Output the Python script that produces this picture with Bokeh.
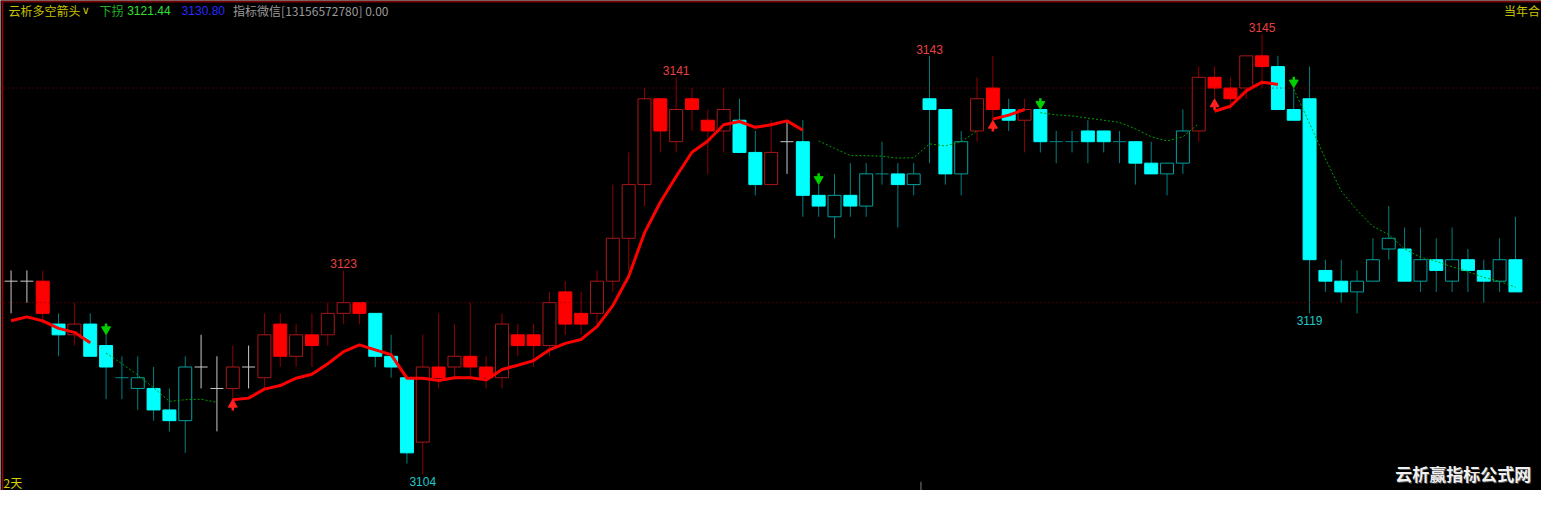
from bokeh.plotting import figure
from bokeh.models import Range1d, Span, Label
from bokeh.core.properties import value
from bokeh.embed import file_html
from bokeh.resources import INLINE

NaN = float("nan")

# ---------------- data ----------------
开盘 = [3122, 3122, 3122, 3118, 3117, 3118, 3116, 3113, 3112, 3112,
        3110, 3109, 3114, 3112, 3112, 3114, 3113, 3118, 3115, 3117,
        3117, 3119, 3120, 3119, 3115, 3113, 3107, 3114, 3114, 3115,
        3114, 3113, 3117, 3117, 3116, 3121, 3119, 3119, 3122, 3126,
        3131, 3139, 3135, 3139, 3137, 3136, 3137, 3134, 3131, 3135,
        3135, 3130, 3128, 3130, 3129, 3132, 3132, 3131, 3139, 3138,
        3132, 3136, 3140, 3138, 3137, 3138, 3135, 3135, 3136, 3136,
        3135, 3135, 3133, 3132, 3133, 3136, 3141, 3140, 3140, 3143,
        3142, 3138, 3139, 3123, 3122, 3121, 3122, 3125, 3125, 3122,
        3124, 3122, 3124, 3123, 3122, 3124]
最高 = [3123, 3123, 3123, 3119, 3120, 3119, 3117, 3115, 3115, 3114,
        3112, 3115, 3117, 3115, 3116, 3116, 3119, 3119, 3118, 3119,
        3120, 3123, 3120, 3119, 3117, 3113, 3117, 3119, 3118, 3120,
        3115, 3119, 3118, 3118, 3121, 3122, 3121, 3123, 3131, 3134,
        3140, 3139, 3141, 3140, 3138, 3140, 3139, 3136, 3137, 3137,
        3137, 3131, 3132, 3133, 3133, 3135, 3133, 3133, 3143, 3138,
        3136, 3141, 3143, 3139, 3139, 3138, 3136, 3136, 3137, 3136,
        3136, 3135, 3135, 3133, 3138, 3142, 3142, 3141, 3143, 3145,
        3143, 3140, 3142, 3124, 3124, 3123, 3126, 3129, 3127, 3127,
        3126, 3127, 3125, 3124, 3126, 3128]
最低 = [3119, 3120, 3118, 3115, 3116, 3115, 3111, 3111, 3110, 3109,
        3108, 3106, 3112, 3108, 3111, 3112, 3112, 3114, 3114, 3114,
        3116, 3118, 3118, 3114, 3113, 3105, 3104, 3112, 3113, 3113,
        3112, 3112, 3115, 3114, 3115, 3117, 3117, 3118, 3121, 3123,
        3129, 3134, 3134, 3136, 3132, 3134, 3134, 3130, 3131, 3132,
        3128, 3128, 3126, 3128, 3128, 3131, 3127, 3130, 3133, 3131,
        3130, 3135, 3137, 3136, 3134, 3134, 3133, 3134, 3133, 3134,
        3133, 3131, 3132, 3130, 3132, 3135, 3139, 3138, 3139, 3140,
        3138, 3137, 3119, 3121, 3120, 3119, 3122, 3124, 3122, 3121,
        3121, 3121, 3121, 3120, 3121, 3121]
收盘 = [3122, 3122, 3119, 3117, 3118, 3115, 3114, 3113, 3113, 3110,
        3109, 3114, 3114, 3112, 3114, 3114, 3117, 3115, 3117, 3116,
        3119, 3120, 3119, 3115, 3114, 3106, 3114, 3113, 3115, 3114,
        3113, 3118, 3116, 3116, 3120, 3118, 3118, 3122, 3126, 3131,
        3139, 3136, 3138, 3138, 3136, 3138, 3134, 3131, 3134, 3135,
        3130, 3129, 3130, 3129, 3132, 3132, 3131, 3132, 3138, 3132,
        3135, 3139, 3138, 3137, 3138, 3135, 3135, 3135, 3135, 3135,
        3135, 3133, 3132, 3133, 3136, 3141, 3140, 3139, 3143, 3142,
        3138, 3137, 3124, 3122, 3121, 3122, 3124, 3126, 3122, 3124,
        3123, 3124, 3123, 3122, 3124, 3121]
色类 = ["w", "w", "r", "c", "r", "c", "c", "c", "c", "c",
        "c", "c", "w", "w", "r", "w", "r", "r", "r", "r",
        "r", "r", "r", "c", "c", "c", "r", "r", "r", "r",
        "r", "r", "r", "r", "r", "r", "r", "r", "r", "r",
        "r", "r", "r", "r", "r", "r", "c", "c", "r", "w",
        "c", "c", "c", "c", "c", "c", "c", "c", "c", "c",
        "c", "r", "r", "c", "r", "c", "c", "c", "c", "c",
        "c", "c", "c", "c", "c", "r", "r", "r", "r", "r",
        "c", "c", "c", "c", "c", "c", "c", "c", "c", "c",
        "c", "c", "c", "c", "c", "c"]
红线 = [3118.31, 3118.67, 3118.3, 3117.6, 3117.23, 3116.27, NaN, NaN, NaN, NaN,
        NaN, NaN, NaN, NaN, 3110.95, 3111.1, 3111.94, 3112.27, 3112.96, 3113.32,
        3114.3, 3115.43, 3116.06, 3115.6, 3115.15, 3112.96, 3112.96, 3112.75, 3113.0, 3113.0,
        3112.8, 3113.77, 3114.16, 3114.6, 3115.6, 3116.2, 3116.57, 3117.77, 3119.73, 3122.44,
        3126.5, 3129.36, 3131.76, 3134.02, 3135.07, 3136.58, 3136.88, 3136.34, 3136.58, 3136.94,
        3136.06, NaN, NaN, NaN, NaN, NaN, NaN, NaN, NaN, NaN,
        NaN, NaN, 3137.1, 3137.48, 3138.0, NaN, NaN, NaN, NaN, NaN,
        NaN, NaN, NaN, NaN, NaN, NaN, 3137.84, 3138.3, 3139.74, 3140.55,
        3140.34, NaN, NaN, NaN, NaN, NaN, NaN, NaN, NaN, NaN,
        NaN, NaN, NaN, NaN, NaN, NaN]
绿线 = [NaN, NaN, NaN, NaN, NaN, NaN, 3115.3, 3114.3, 3113.26, 3112.06,
        3110.8, 3110.95, 3111.0, 3110.7, NaN, NaN, NaN, NaN, NaN, NaN,
        NaN, NaN, NaN, NaN, NaN, NaN, NaN, NaN, NaN, NaN,
        NaN, NaN, NaN, NaN, NaN, NaN, NaN, NaN, NaN, NaN,
        NaN, NaN, NaN, NaN, NaN, NaN, NaN, NaN, NaN, NaN,
        NaN, 3135.07, 3134.38, 3133.7, 3133.7, 3133.65, 3133.47, 3133.5, 3134.8, 3134.6,
        3135.0, 3136.0, NaN, NaN, NaN, 3137.7, 3137.5, 3137.4, 3137.2, 3137.0,
        3136.8, 3136.2, 3135.46, 3135.07, 3135.46, 3136.67, NaN, NaN, NaN, NaN,
        NaN, 3139.9, 3136.7, 3133.4, 3130.4, 3128.6, 3127.1, 3126.35, 3125.0, 3124.24,
        3123.85, 3123.34, 3122.9, 3122.35, 3121.99, 3121.44]
高点标注 = [21, 42, 58, 79]
低点标注 = [26, 82]
下箭头 = [6, 51, 65, 81]
上箭头 = [14, 62, 76]
参考线 = [3120, 3140]
分隔位置 = [57.46]
标题 = "云析多空箭头"
下拐值 = "3121.44"
蓝值 = "3130.80"
信息 = "指标微信[13156572780] 0.00"
右上文字 = "当年合"

# ---------------- layout ----------------
W, H = 1541, 490
RW, RH = 1557, 506
首根像素, 间距 = 10.67, 16.0
基准价, 基准像素, 每点像素 = 3145.0, 35.0, 11.08

def 数据x(rx):
    return (rx - 首根像素) / 间距

def 数据y(ry):
    return 基准价 - (ry - 基准像素) / 每点像素

def 屏x(rx):
    return rx * W / RW

def 屏y(ry):
    return H - ry * H / RH

p = figure(width=W, height=H, x_range=Range1d(数据x(0), 数据x(RW)),
           y_range=Range1d(数据y(RH), 数据y(0)), output_backend="svg",
           toolbar_location=None, min_border=0, x_axis_type=None, y_axis_type=None,
           background_fill_color="black", border_fill_color="black",
           outline_line_color=None)
p.grid.visible = False

for lv in 参考线:
    p.add_layout(Span(location=lv, dimension="width", line_color="#8a0000",
                      line_width=1, line_dash="1 3"))
p.add_layout(Span(location=数据x(2), dimension="height", line_color="#a00000", line_width=1.5))
p.add_layout(Span(location=数据y(1), dimension="width", line_color="#7a0000", line_width=2))

idx = list(range(len(开盘)))
芯色 = {"r": "#8b0000", "c": "#008080", "w": "#c8c8c8"}
实色 = {"r": "#ff0000", "c": "#00ffff", "w": "#c8c8c8"}
框色 = {"r": "#a81818", "c": "#00a0a0", "w": "#c8c8c8"}
十色 = {"r": "#a81818", "c": "#008c8c", "w": "#c8c8c8"}

# wicks
p.segment(x0=idx, y0=最低, x1=idx, y1=最高, line_color=[芯色[c] for c in 色类], line_width=1)

bw = 0.82
实 = [i for i in idx if 收盘[i] < 开盘[i]]
p.vbar(x=实, width=bw, top=[开盘[i] for i in 实], bottom=[收盘[i] for i in 实],
       fill_color=[实色[色类[i]] for i in 实], line_color=[实色[色类[i]] for i in 实], line_width=1)
空 = [i for i in idx if 收盘[i] > 开盘[i]]
p.vbar(x=空, width=bw, top=[收盘[i] for i in 空], bottom=[开盘[i] for i in 空],
       fill_color="black", line_color=[框色[色类[i]] for i in 空], line_width=1)
十 = [i for i in idx if 收盘[i] == 开盘[i]]
p.segment(x0=[i - bw / 2 for i in 十], y0=[开盘[i] for i in 十],
          x1=[i + bw / 2 for i in 十], y1=[开盘[i] for i in 十],
          line_color=[十色[色类[i]] for i in 十], line_width=1)

# indicator lines
p.line(idx, 绿线, line_color="#00a000", line_width=1, line_dash="2 2")
p.line(idx, 红线, line_color="#ff0000", line_width=3)

# arrows
gc = "#00d000"
p.segment(x0=下箭头, x1=下箭头, y0=[最高[i] + 0.62 for i in 下箭头],
          y1=[最高[i] + 1.05 for i in 下箭头], line_color=gc, line_width=2.5)
p.scatter(x=下箭头, y=[最高[i] + 0.5 for i in 下箭头], marker="inverted_triangle",
          size=9, fill_color=gc, line_color=gc)
rc = "#ff2020"
p.segment(x0=上箭头, x1=上箭头, y0=[最低[i] - 0.62 for i in 上箭头],
          y1=[最低[i] - 1.05 for i in 上箭头], line_color=rc, line_width=2.5)
p.scatter(x=上箭头, y=[最低[i] - 0.5 for i in 上箭头], marker="triangle",
          size=9, fill_color=rc, line_color=rc)

# extreme labels
p.text(x=高点标注, y=[最高[i] for i in 高点标注], text=[str(最高[i]) for i in 高点标注],
       text_color="#e84040", text_font=value("Liberation Sans"), text_font_size="12px",
       text_align="center", text_baseline="bottom", y_offset=-2)
p.text(x=低点标注, y=[最低[i] for i in 低点标注], text=[str(最低[i]) for i in 低点标注],
       text_color="#20c8c8", text_font=value("Liberation Sans"), text_font_size="12px",
       text_align="center", text_baseline="top", y_offset=3)

# separator tick
p.segment(x0=分隔位置, x1=分隔位置, y0=[数据y(RH)] * len(分隔位置), y1=[数据y(497)] * len(分隔位置),
          line_color="#808080", line_width=1)

def 标签(rx, ry, txt, color, font="Liberation Sans", size="12px", align="left", style="normal"):
    p.add_layout(Label(x=屏x(rx), y=屏y(ry), x_units="screen", y_units="screen", text=txt,
                       text_color=color, text_font=font, text_font_size=size,
                       text_align=align, text_baseline="middle", text_font_style=style))

标签(8, 10.5, 标题, "#c8c000", font="Noto Sans CJK SC")
标签(82, 10.5, "∨", "#c8c000", font="DejaVu Sans", size="11px")
标签(100, 10.5, "下拐", "#20b020", font="Noto Sans CJK SC")
标签(128, 10.5, 下拐值, "#30e030")
标签(183, 10.5, 蓝值, "#2828ff")
标签(235, 10.5, 信息, "#9a9a9a", font="Noto Sans CJK SC")
标签(1519, 10.5, 右上文字, "#c8c000", font="Noto Sans CJK SC")
标签(3, 497.5, "2天", "#d8d000", font="Noto Sans CJK SC")
标签(1479, 489.5, "云析赢指标公式网", "#505050", font="Noto Sans CJK SC", size="17px", align="center", style="bold")
标签(1478, 488.5, "云析赢指标公式网", "#f0f0f0", font="Noto Sans CJK SC", size="17px", align="center", style="bold")

open("out.html", "w").write(file_html(p, INLINE))
